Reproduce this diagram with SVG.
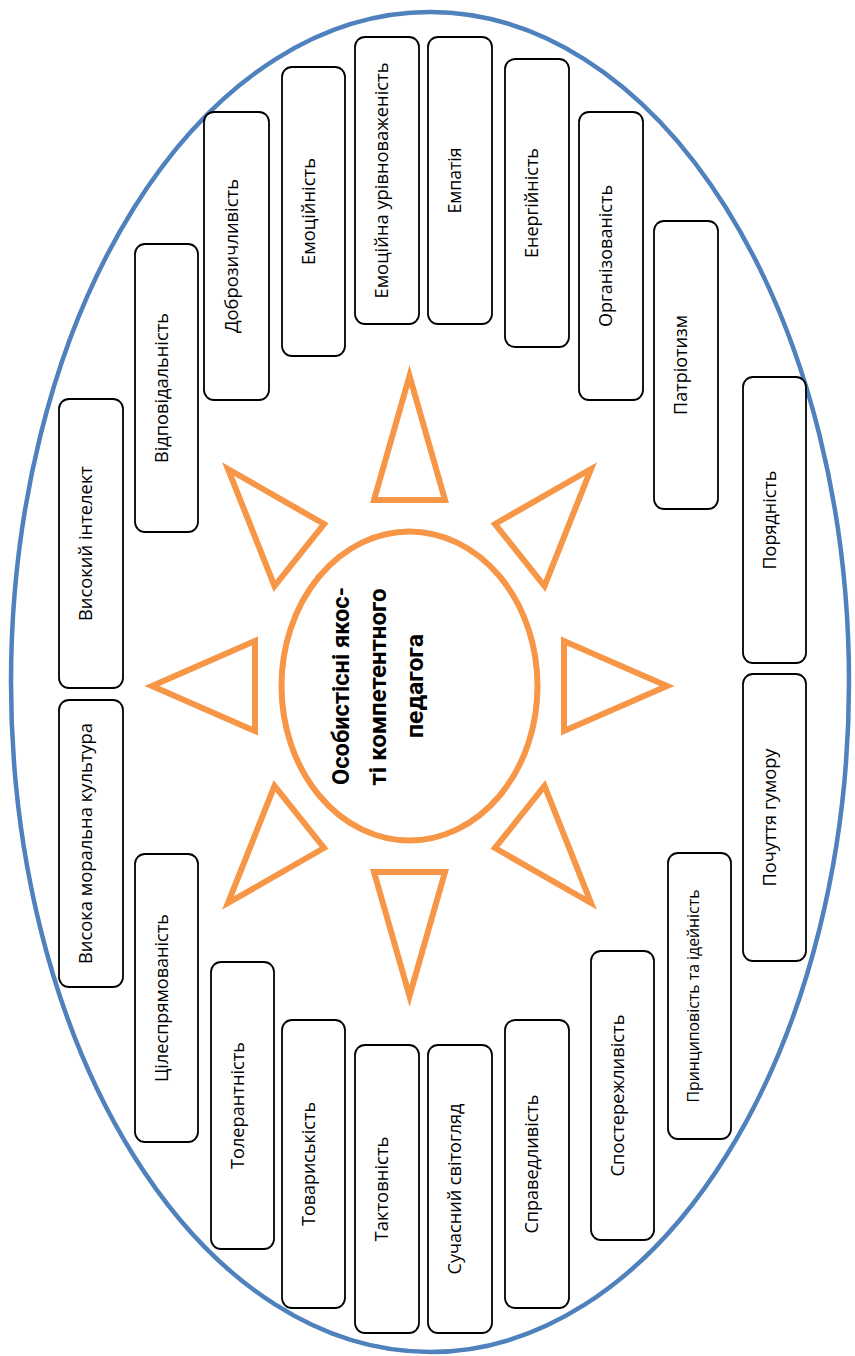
<svg xmlns="http://www.w3.org/2000/svg" width="855" height="1356" viewBox="0 0 855 1356">
  <style>
    .frame { fill: #fff; stroke: #4F81BD; stroke-width: 4.5; }
    .core { fill: #fff; stroke: #F79646; stroke-width: 6; }
    .ray { fill: none; stroke: #F79646; stroke-width: 6; stroke-linejoin: miter; }
    .box { fill: #fff; stroke: #000; stroke-width: 1.8; }
    .lbl { font-family: "Open Sans", "Noto Sans", "DejaVu Sans", sans-serif; font-size: 18.5px; text-anchor: middle; fill: #000; }
    .lbl.small { font-size: 15.5px; }
    .title { font-family: "Roboto", "Liberation Sans", "DejaVu Sans", sans-serif; font-size: 23.5px; font-weight: bold; text-anchor: middle; fill: #000; }
  </style>

  <!-- outer frame -->
  <ellipse id="frame" class="frame" cx="430" cy="682" rx="419" ry="670"/>

  <!-- sun rays around the core -->
  <g id="rays">
    <polygon class="ray" points="409.5,376 374,500 445,500"/>
    <polygon class="ray" points="409.5,996 374,872 445,872"/>
    <polygon class="ray" points="152,686 255,641 255,731"/>
    <polygon class="ray" points="667,686 564,641 564,731"/>
    <polygon class="ray" points="228,469 324,524 274.5,586"/>
    <polygon class="ray" points="591,469 495,524 544.5,586"/>
    <polygon class="ray" points="228,903 324,848 274.5,786"/>
    <polygon class="ray" points="591,903 495,848 544.5,786"/>
  </g>

  <!-- central node -->
  <g id="core">
    <ellipse class="core" cx="409.5" cy="686" rx="128" ry="154.5"/>
    <text class="title" transform="translate(349,686) rotate(-90)" textLength="198" lengthAdjust="spacingAndGlyphs">Особистісні якос-</text>
    <text class="title" transform="translate(386,687) rotate(-90)" textLength="197" lengthAdjust="spacingAndGlyphs">ті компетентного</text>
    <text class="title" transform="translate(423,686) rotate(-90)" textLength="104" lengthAdjust="spacingAndGlyphs">педагога</text>
  </g>

  <!-- quality nodes, left half -->
  <g id="q-intellect">
    <rect class="box" x="59" y="399" width="64" height="289" rx="10"/>
    <text class="lbl" transform="translate(91,543.5) rotate(-90)" y="1" textLength="155" lengthAdjust="spacingAndGlyphs">Високий інтелект</text>
  </g>
  <g id="q-moral">
    <rect class="box" x="59" y="700" width="64" height="287" rx="10"/>
    <text class="lbl" transform="translate(91,843.5) rotate(-90)" y="1" textLength="241" lengthAdjust="spacingAndGlyphs">Висока моральна культура</text>
  </g>
  <g id="q-responsibility">
    <rect class="box" x="135" y="244" width="63" height="288" rx="10"/>
    <text class="lbl" transform="translate(166.5,388) rotate(-90)" y="1" textLength="150" lengthAdjust="spacingAndGlyphs">Відповідальність</text>
  </g>
  <g id="q-purpose">
    <rect class="box" x="135" y="854" width="63" height="288" rx="10"/>
    <text class="lbl" transform="translate(166.5,998) rotate(-90)" y="1" textLength="168" lengthAdjust="spacingAndGlyphs">Цілеспрямованість</text>
  </g>
  <g id="q-kindness">
    <rect class="box" x="204" y="112" width="65" height="288" rx="10"/>
    <text class="lbl" transform="translate(236.5,256) rotate(-90)" y="1" textLength="154" lengthAdjust="spacingAndGlyphs">Доброзичливість</text>
  </g>
  <g id="q-tolerance">
    <rect class="box" x="211" y="962" width="63" height="287" rx="10"/>
    <text class="lbl" transform="translate(242.5,1105.5) rotate(-90)" y="1" textLength="127" lengthAdjust="spacingAndGlyphs">Толерантність</text>
  </g>
  <g id="q-emotionality">
    <rect class="box" x="282" y="67" width="63" height="289" rx="10"/>
    <text class="lbl" transform="translate(313.5,211.5) rotate(-90)" y="1" textLength="107" lengthAdjust="spacingAndGlyphs">Емоційність</text>
  </g>
  <g id="q-fellowship">
    <rect class="box" x="282" y="1020" width="63" height="288" rx="10"/>
    <text class="lbl" transform="translate(313.5,1164) rotate(-90)" y="1" textLength="124" lengthAdjust="spacingAndGlyphs">Товариськість</text>
  </g>
  <g id="q-balance">
    <rect class="box" x="355" y="37" width="64" height="287" rx="10"/>
    <text class="lbl" transform="translate(387,180.5) rotate(-90)" y="1" textLength="236" lengthAdjust="spacingAndGlyphs">Емоційна урівноваженість</text>
  </g>
  <g id="q-tact">
    <rect class="box" x="355" y="1045" width="64" height="288" rx="10"/>
    <text class="lbl" transform="translate(387,1189) rotate(-90)" y="1" textLength="105" lengthAdjust="spacingAndGlyphs">Тактовність</text>
  </g>

  <!-- quality nodes, right half -->
  <g id="q-empathy">
    <rect class="box" x="428" y="37" width="64" height="287" rx="10"/>
    <text class="lbl" transform="translate(460,180.5) rotate(-90)" y="1" textLength="66" lengthAdjust="spacingAndGlyphs">Емпатія</text>
  </g>
  <g id="q-worldview">
    <rect class="box" x="428" y="1045" width="64" height="288" rx="10"/>
    <text class="lbl" transform="translate(460,1189) rotate(-90)" y="1" textLength="171" lengthAdjust="spacingAndGlyphs">Сучасний світогляд</text>
  </g>
  <g id="q-energy">
    <rect class="box" x="505" y="59" width="64" height="288" rx="10"/>
    <text class="lbl" transform="translate(537,203) rotate(-90)" y="1" textLength="110" lengthAdjust="spacingAndGlyphs">Енергійність</text>
  </g>
  <g id="q-justice">
    <rect class="box" x="505" y="1020" width="64" height="288" rx="10"/>
    <text class="lbl" transform="translate(537,1164) rotate(-90)" y="1" textLength="139" lengthAdjust="spacingAndGlyphs">Справедливість</text>
  </g>
  <g id="q-organization">
    <rect class="box" x="579" y="112" width="64" height="288" rx="10"/>
    <text class="lbl" transform="translate(611,256) rotate(-90)" y="1" textLength="142" lengthAdjust="spacingAndGlyphs">Організованість</text>
  </g>
  <g id="q-observation">
    <rect class="box" x="591" y="951" width="63" height="289" rx="10"/>
    <text class="lbl" transform="translate(622.5,1095.5) rotate(-90)" y="1" textLength="162" lengthAdjust="spacingAndGlyphs">Спостережливість</text>
  </g>
  <g id="q-patriotism">
    <rect class="box" x="654" y="221" width="64" height="288" rx="10"/>
    <text class="lbl" transform="translate(686,365) rotate(-90)" y="1" textLength="100" lengthAdjust="spacingAndGlyphs">Патріотизм</text>
  </g>
  <g id="q-principles">
    <rect class="box" x="668" y="853" width="63" height="286" rx="10"/>
    <text class="lbl small" transform="translate(699.5,996) rotate(-90)" y="-1" textLength="213" lengthAdjust="spacingAndGlyphs">Принциповість та ідейність</text>
  </g>
  <g id="q-decency">
    <rect class="box" x="743" y="377" width="63" height="286" rx="10"/>
    <text class="lbl" transform="translate(774.5,520) rotate(-90)" y="1" textLength="99" lengthAdjust="spacingAndGlyphs">Порядність</text>
  </g>
  <g id="q-humour">
    <rect class="box" x="743" y="674" width="63" height="287" rx="10"/>
    <text class="lbl" transform="translate(774.5,817.5) rotate(-90)" y="1" textLength="138" lengthAdjust="spacingAndGlyphs">Почуття гумору</text>
  </g>
</svg>
